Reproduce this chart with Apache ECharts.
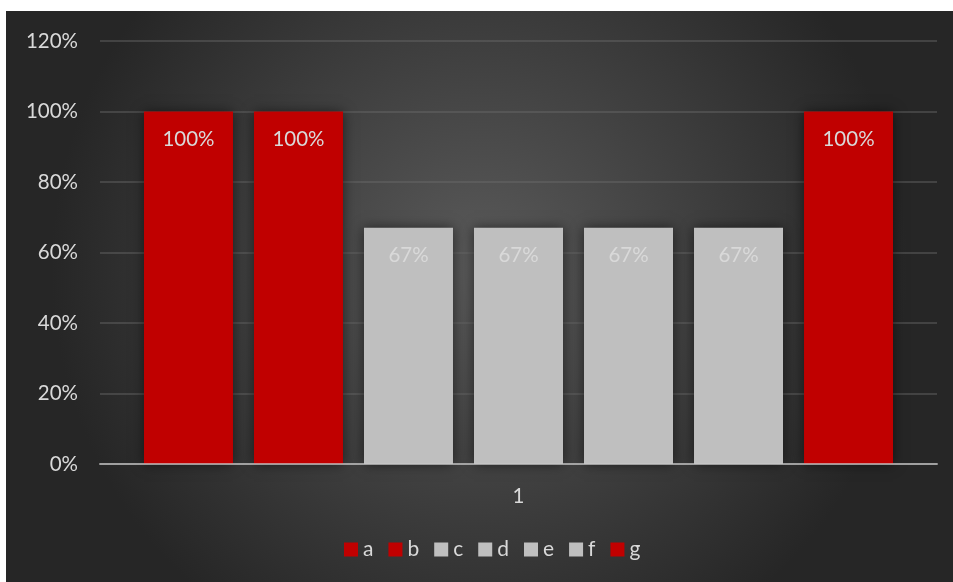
<!DOCTYPE html>
<html>
<head>
<meta charset="utf-8">
<script src="https://cdn.jsdelivr.net/npm/echarts@6/dist/echarts.min.js"></script>
<style>
  html, body { margin: 0; padding: 0; background: #ffffff; }
  #chart { position: absolute; left: 6px; top: 11px; width: 947px; height: 571px; }
</style>
</head>
<body>
<div id="chart"></div>
<script>
// Single category, one bar per series
const categories = ['1'];
const seriesNames = ['a', 'b', 'c', 'd', 'e', 'f', 'g'];
const seriesValues = [1, 1, 0.67, 0.67, 0.67, 0.67, 1];
const seriesColors = ['#c00000', '#c00000', '#bfbfbf', '#bfbfbf', '#bfbfbf', '#bfbfbf', '#c00000'];
const yTickValues = [0, 0.2, 0.4, 0.6, 0.8, 1.0, 1.2];

const FONT = 'Lato, "Open Sans", sans-serif';
const pct = v => Math.round(v * 100) + '%';

const chart = echarts.init(document.getElementById('chart'));

const series = seriesNames.map((name, i) => ({
  name: name,
  type: 'bar',
  data: [seriesValues[i]],
  barWidth: 89,
  barGap: '23.6%',
  itemStyle: {
    color: seriesColors[i],
    shadowBlur: 12,
    shadowColor: 'rgba(0,0,0,0.55)'
  },
  label: {
    show: true,
    position: 'insideTop',
    distance: 17,
    color: '#d9d9d9',
    fontFamily: FONT,
    fontSize: 20.5,
    formatter: p => pct(p.value)
  }
}));

chart.setOption({
  backgroundColor: {
    type: 'radial',
    x: 0.5, y: 0.45, r: 0.75,
    colorStops: [
      { offset: 0, color: '#5a5a5a' },
      { offset: 1, color: '#262626' }
    ]
  },
  animation: false,
  grid: { left: 94, right: 16, top: 30, bottom: 118, containLabel: false },
  legend: {
    bottom: 17,
    left: 333,
    itemWidth: 14,
    itemHeight: 14,
    itemGap: 15,
    icon: 'rect',
    textStyle: { color: '#d9d9d9', fontFamily: FONT, fontSize: 21 },
    data: seriesNames
  },
  xAxis: {
    type: 'category',
    data: categories,
    z: 5,
    axisLine: { lineStyle: { color: 'rgba(200,200,200,0.7)', width: 2 } },
    axisTick: { show: false },
    axisLabel: { color: '#d9d9d9', fontFamily: FONT, fontSize: 20.5, margin: 22 }
  },
  yAxis: {
    type: 'value',
    min: 0,
    max: 1.2,
    interval: 0.2,
    axisLine: { show: false },
    axisTick: { show: false },
    splitLine: { lineStyle: { color: 'rgba(110,110,110,0.55)', width: 1.5 } },
    axisLabel: {
      color: '#d9d9d9',
      fontFamily: FONT,
      fontSize: 20.5,
      margin: 22,
      formatter: v => yTickValues.some(t => Math.abs(t - v) < 1e-9) ? pct(v) : ''
    }
  },
  series: series
});
</script>
</body>
</html>
